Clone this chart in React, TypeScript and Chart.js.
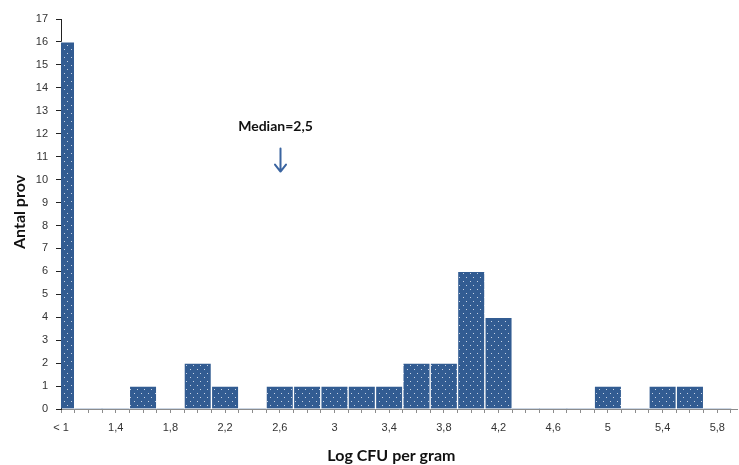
import React, { useEffect, useRef } from "react";
import { Chart, registerables } from "chart.js";

Chart.register(...registerables);

// Histogram bins (centre of each 0.2-wide log class; the first class holds "< 1")
const binCenters = [
  1.0, 1.2, 1.4, 1.6, 1.8, 2.0, 2.2, 2.4, 2.6, 2.8, 3.0, 3.2, 3.4,
  3.6, 3.8, 4.0, 4.2, 4.4, 4.6, 4.8, 5.0, 5.2, 5.4, 5.6, 5.8,
];
const sampleCounts = [
  16, 0, 0, 1, 0, 2, 1, 0, 1, 1, 1, 1, 1,
  2, 2, 6, 4, 0, 0, 0, 1, 0, 1, 1, 0,
];

// Labelled positions on the log axis
const xTickValues = [1.0, 1.4, 1.8, 2.2, 2.6, 3.0, 3.4, 3.8, 4.2, 4.6, 5.0, 5.4, 5.8];
const xTickLabels = ["< 1", "1,4", "1,8", "2,2", "2,6", "3", "3,4", "3,8", "4,2", "4,6", "5", "5,4", "5,8"];

const yMin = 0;
const yMax = 17;

const median = 2.5;
const medianText = "Median=2,5";

const xTitle = "Log CFU per gram";
const yTitle = "Antal prov";

const BAR_BLUE = "#325c92";
const ARROW_BLUE = "#3a64a0";
const TICK_FONT = "'Liberation Sans', Arial, sans-serif";
const TITLE_FONT = "Lato, 'Open Sans', sans-serif";

// Dotted fill for the bars
function makeDotPattern(): CanvasPattern | string {
  const tile = document.createElement("canvas");
  tile.width = 7;
  tile.height = 8;
  const c = tile.getContext("2d");
  if (!c) return BAR_BLUE;
  c.fillStyle = BAR_BLUE;
  c.fillRect(0, 0, 7, 8);
  c.fillStyle = "rgba(235,240,248,0.8)";
  c.fillRect(1, 1, 1, 1);
  c.fillRect(4, 5, 1, 1);
  const p = c.createPattern(tile, "repeat");
  return p || BAR_BLUE;
}

// Bin whose 0.2-wide class contains the median
function binOf(v: number): number {
  const eps = 1e-9;
  const hit = binCenters.find((c) => v >= c - 0.1 - eps && v < c + 0.1 - eps);
  return hit === undefined ? v : hit;
}

const annotationPlugin = {
  id: "medianAndTitles",
  afterDraw(chart: any) {
    const { ctx, chartArea, scales } = chart;
    const xs = scales.x;
    const ys = scales.y;

    // Median marker
    const ax = Math.round(xs.getPixelForValue(binOf(median))) + 0.5;
    const top = ys.getPixelForValue(11.35);
    const bottom = ys.getPixelForValue(10.35);
    ctx.save();
    ctx.strokeStyle = ARROW_BLUE;
    ctx.lineWidth = 2;
    ctx.lineCap = "round";
    ctx.lineJoin = "round";
    ctx.beginPath();
    ctx.moveTo(ax, top);
    ctx.lineTo(ax, bottom);
    ctx.moveTo(ax - 5.5, bottom - 7);
    ctx.lineTo(ax, bottom);
    ctx.lineTo(ax + 5.5, bottom - 7);
    ctx.stroke();

    ctx.fillStyle = "#111";
    ctx.font = `bold 14px ${TITLE_FONT}`;
    ctx.textAlign = "center";
    ctx.textBaseline = "middle";
    ctx.fillText(medianText, ax - 5, ys.getPixelForValue(12.3));

    // Axis titles
    ctx.font = `bold 16px ${TITLE_FONT}`;
    ctx.fillText(xTitle, (chartArea.left + chartArea.right) / 2 - 8, 456);
    ctx.translate(20, (chartArea.top + chartArea.bottom) / 2 - 2);
    ctx.rotate(-Math.PI / 2);
    ctx.fillText(yTitle, 0, 0);
    ctx.restore();
  },
};

export default function App() {
  const canvasRef = useRef<HTMLCanvasElement | null>(null);

  useEffect(() => {
    const canvas = canvasRef.current;
    if (!canvas) return;
    const fill = makeDotPattern();

    const chart = new Chart(canvas, {
      type: "bar",
      data: {
        datasets: [
          {
            label: yTitle,
            data: binCenters.map((c, i) => ({ x: c, y: sampleCounts[i] })),
            xAxisID: "bins",
            yAxisID: "y",
            backgroundColor: fill as any,
            borderColor: "#ffffff",
            borderWidth: (ctx: any) => (ctx.raw && ctx.raw.y > 0 ? 1 : 0),
            barPercentage: 1,
            categoryPercentage: 1,
          },
        ],
      },
      options: {
        responsive: false,
        animation: false,
        devicePixelRatio: 1,
        layout: { padding: { top: 19, right: 1, bottom: 0, left: 0 } },
        plugins: {
          legend: { display: false },
          tooltip: { enabled: false },
        },
        scales: {
          // hidden axis with one step per bin, so each bar spans its full class
          bins: {
            type: "linear",
            axis: "x",
            position: "bottom",
            display: false,
            offset: false,
            grid: { offset: false },
            min: 1,
            max: 5.95,
            ticks: { stepSize: 0.2 },
          },
          x: {
            type: "linear",
            position: "bottom",
            offset: false,
            min: 1,
            max: 5.95,
            afterFit: (s: any) => {
              s.height = 56;
            },
            border: { display: true, color: "#8c8c8c", width: 1 },
            grid: {
              display: true,
              offset: false,
              drawOnChartArea: false,
              drawTicks: true,
              tickLength: 4,
              color: "#8c8c8c",
            },
            ticks: {
              stepSize: 0.1,
              includeBounds: false,
              autoSkip: false,
              maxRotation: 0,
              padding: 8,
              color: "#333",
              font: { family: TICK_FONT, size: 11 },
              callback: (v: any) => {
                const k = xTickValues.findIndex((t) => Math.abs(t - Number(v)) < 1e-6);
                return k >= 0 ? xTickLabels[k] : "";
              },
            },
          },
          y: {
            type: "linear",
            min: yMin,
            max: yMax,
            afterFit: (s: any) => {
              s.width = 61;
            },
            border: { display: true, color: "#222", width: 1 },
            grid: {
              display: true,
              drawOnChartArea: false,
              drawTicks: true,
              tickLength: 5,
              color: "#222",
            },
            ticks: {
              stepSize: 1,
              padding: 8,
              color: "#333",
              font: { family: TICK_FONT, size: 11 },
            },
          },
        },
      },
      plugins: [annotationPlugin],
    });

    return () => chart.destroy();
  }, []);

  return (
    <div style={{ position: "fixed", left: 0, top: 0, width: 739, height: 465, background: "#fff" }}>
      <canvas ref={canvasRef} width={739} height={465} style={{ display: "block" }} />
    </div>
  );
}
